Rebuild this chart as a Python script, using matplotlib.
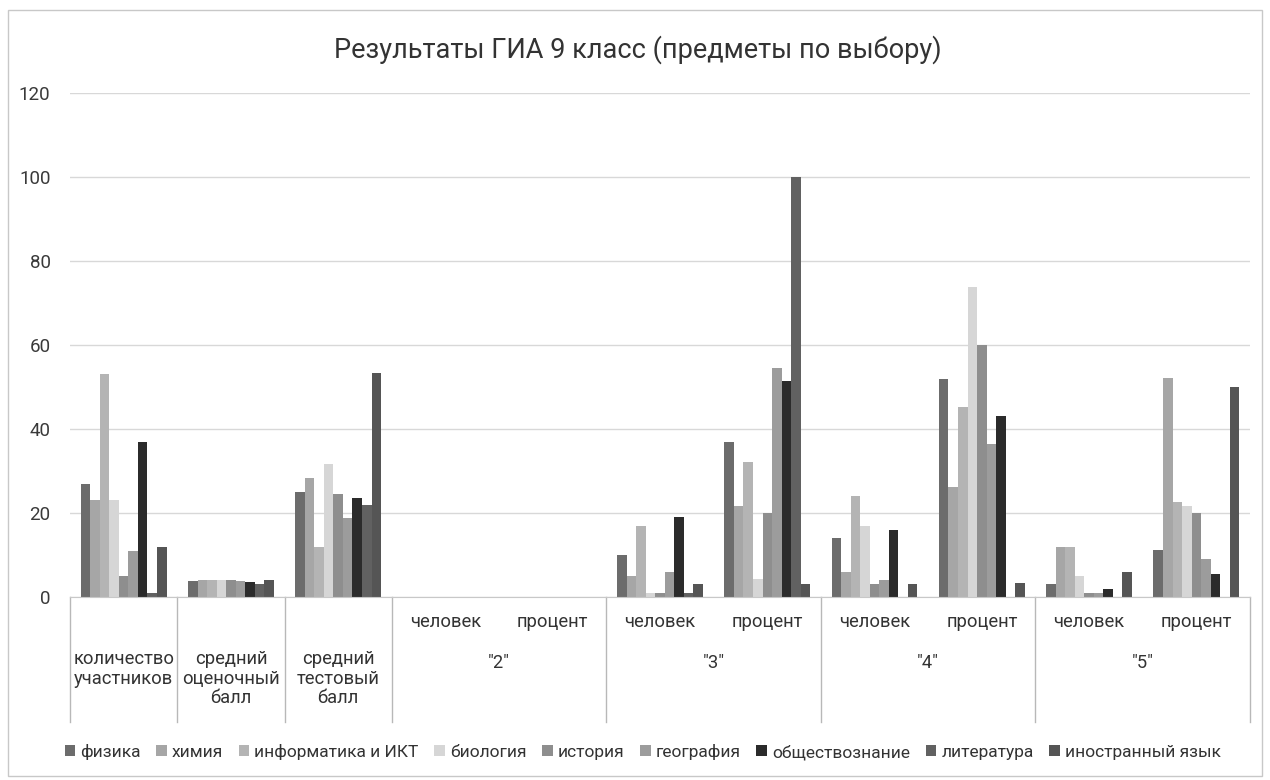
import numpy as np
import matplotlib.pyplot as plt

plt.rcParams['font.family'] = ['Roboto', 'DejaVu Sans']

categories = ['количество\nучастников', 'средний\nоценочный\nбалл', 'средний\nтестовый\nбалл',
              'человек', 'процент', 'человек', 'процент',
              'человек', 'процент', 'человек', 'процент']
groups = ['"2"', '"3"', '"4"', '"5"']
subjects = ['физика', 'химия', 'информатика и ИКТ', 'биология', 'история',
            'география', 'обществознание', 'литература', 'иностранный язык']

# one list per subject, values follow the 11 categories
fizika = [27, 3.7, 25, 0, 0, 10, 37, 14, 51.9, 3, 11.1]
himiya = [23, 4.1, 28.3, 0, 0, 5, 21.7, 6, 26.1, 12, 52.2]
informatika = [53, 4.0, 12, 0, 0, 17, 32.1, 24, 45.3, 12, 22.6]
biologiya = [23, 4.1, 31.7, 0, 0, 1, 4.3, 17, 73.9, 5, 21.7]
istoriya = [5, 4.0, 24.6, 0, 0, 1, 20, 3, 60, 1, 20]
geografiya = [11, 3.8, 18.7, 0, 0, 6, 54.5, 4, 36.4, 1, 9.1]
obshchestvo = [37, 3.5, 23.6, 0, 0, 19, 51.4, 16, 43.2, 2, 5.4]
literatura = [1, 3.2, 21.9, 0, 0, 1, 100, 0, 0, 0, 0]
inostranny = [12, 4.1, 53.4, 0, 0, 3, 3.2, 3, 3.3, 6, 50]

series = [fizika, himiya, informatika, biologiya, istoriya,
          geografiya, obshchestvo, literatura, inostranny]
colors = ['#6c6c6c', '#a6a6a6', '#b4b4b4', '#d6d6d6', '#8e8e8e',
          '#9c9c9c', '#2b2b2b', '#616161', '#555555']

fig = plt.figure(figsize=(12.7, 7.8), dpi=100)
ax = fig.add_axes([70 / 1270, 1 - 597 / 780, 1180 / 1270, 504 / 780])

x = np.arange(len(categories))
w = 0.8 / len(series)
for i, (vals, c, name) in enumerate(zip(series, colors, subjects)):
    ax.bar(x - 0.4 + w * (i + 0.5), vals, width=w, color=c, label=name,
           linewidth=0)

ax.set_xlim(-0.5, len(categories) - 0.5)
ax.set_ylim(0, 120)
ax.set_yticks(range(0, 121, 20))
ax.tick_params(axis='y', length=0, labelsize=13.5, labelcolor='#3a3a3a', pad=14)
ax.tick_params(axis='x', length=0, labelbottom=False)
ax.grid(axis='y', color='#d8d8d8', linewidth=1)
ax.set_axisbelow(True)
for s in ['top', 'right', 'left']:
    ax.spines[s].set_visible(False)
ax.spines['bottom'].set_color('#c8c8c8')

# category table under the axis
tr = ax.get_xaxis_transform()
for b in [-0.5, 0.5, 1.5, 2.5, 4.5, 6.5, 8.5, 10.5]:
    ax.plot([b, b], [0, -0.248], transform=tr, clip_on=False,
            color='#b8b8b8', linewidth=1)
for i in range(3):
    ax.text(x[i], -0.106, categories[i], transform=tr, ha='center', va='top',
            fontsize=13.2, color='#333333', linespacing=1.1)
for i in range(3, len(categories)):
    ax.text(x[i], -0.05, categories[i], transform=tr, ha='center', va='center',
            fontsize=13.2, color='#333333')
for j, g in enumerate(groups):
    ax.text(3.5 + 2 * j, -0.131, g, transform=tr, ha='center', va='center',
            fontsize=13.2, color='#333333')

fig.text(0.502, 1 - 50 / 780, 'Результаты ГИА 9 класс (предметы по выбору)',
         ha='center', va='center', fontsize=19.5, color='#333333')

fig.legend(loc='center', bbox_to_anchor=(0.506, 1 - 752 / 780), ncol=9,
           frameon=False, fontsize=12.5, handlelength=0.6, handleheight=0.6,
           handletextpad=0.3, columnspacing=0.9, labelcolor='#333333')

# outer chart border
fig.patches.append(plt.Rectangle((8 / 1270, 4 / 780), 1254 / 1270, 766 / 780,
                                 transform=fig.transFigure, fill=False,
                                 edgecolor='#c8c8c8', linewidth=1))

fig.savefig('out.png', dpi=100)
